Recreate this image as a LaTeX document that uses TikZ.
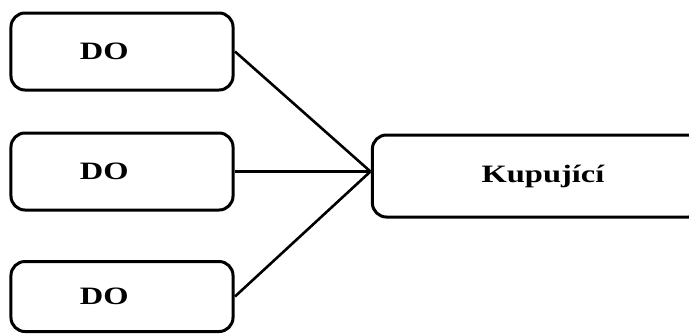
\documentclass[tikz,border=0pt]{standalone}
\usepackage{fontspec}
\setmainfont{Liberation Serif}

\begin{document}
\begin{tikzpicture}[x=0.5pt, y=-0.5pt, line width=1.3pt,
		every node/.style = {shape=rectangle, rounded corners=7pt, draw, line width=1.5pt,
	xscale=1.3, align=left, font=\fontsize{12.5}{14}\selectfont\bfseries},
		dobox/.style = {minimum height=38.5pt, inner xsep=26.5pt, text width=32.4pt}]
			\useasboundingbox (0,0) rectangle (689,333);
			\node[dobox] (do1) at (122,51.5) {DO};
			\node[dobox] (do2) at (122,171.5) {DO};
			\node[dobox, minimum height=35pt] (do3) at (122,296.5) {DO};
			\node[minimum height=41pt, inner xsep=42pt, text width=43pt] (kup) at (537.5,176) {Kupující};
			% all three lines meet on the left side of the buyer box
			\coordinate (hub) at (kup.west |- do2.east);
			\foreach \n in {do1,do2,do3}
				\draw (\n.east) -- (hub);
		\end{tikzpicture}
\end{document}
